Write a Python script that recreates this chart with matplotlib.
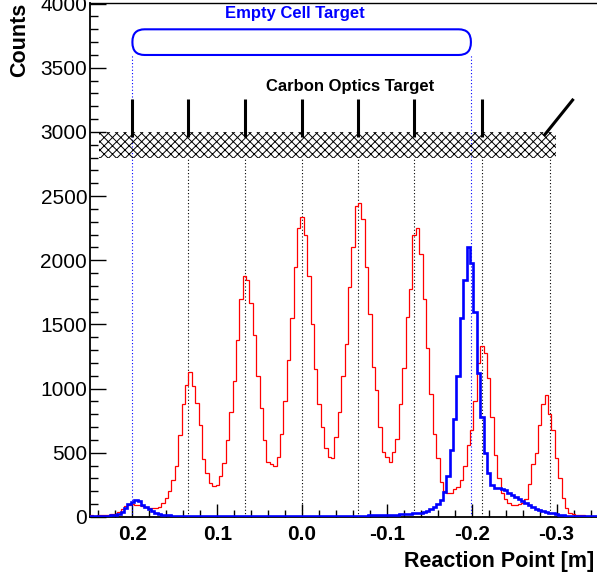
import numpy as np
import matplotlib
matplotlib.use("Agg")
import matplotlib.pyplot as plt
from matplotlib.patches import FancyBboxPatch, Rectangle
from matplotlib.ticker import MultipleLocator

plt.rcParams['font.family'] = ['Liberation Sans', 'DejaVu Sans']
plt.rcParams['hatch.linewidth'] = 0.7

# histogram range (axis drawn reversed: +0.25 on the left, -0.35 on the right)
x_lo, x_hi = -0.35, 0.25
nbins = 150

# counts per bin, read left to right on the picture (x from +0.25 down to -0.35)
carbon_counts = [
    12, 10, 14, 12, 15, 18, 20, 22, 40, 62,
    82, 95, 98, 96, 92, 86, 78, 72, 68, 70,
    80, 110, 145, 205, 290, 395, 640, 880, 1030, 1130,
    1020, 886, 720, 450, 345, 262, 242, 250, 320, 420,
    600, 820, 1060, 1380, 1700, 1880, 1850, 1670, 1420, 1100,
    850, 600, 430, 410, 395, 470, 650, 900, 1220, 1550,
    1950, 2250, 2340, 2200, 1880, 1500, 1150, 880, 700, 540,
    470, 460, 620, 820, 1100, 1350, 1790, 2100, 2420, 2450,
    2320, 1950, 1580, 1170, 990, 700, 510, 470, 430, 510,
    610, 880, 1160, 1560, 1780, 2200, 2250, 2050, 1700, 1320,
    960, 650, 460, 270, 200, 190, 190, 220, 230, 290,
    400, 560, 680, 900, 1200, 1330, 1280, 1080, 780, 480,
    300, 190, 140, 110, 96, 95, 100, 110, 140, 260,
    410, 500, 720, 880, 950, 800, 680, 460, 300, 150,
    68, 35, 22, 16, 14, 12, 10, 10, 8, 8,
]
empty_counts = [
    5, 5, 6, 6, 8, 10, 12, 14, 25, 42,
    68, 105, 120, 130, 128, 95, 75, 60, 45, 30,
    20, 15, 12, 12, 11, 11, 10, 10, 10, 10,
    9, 9, 9, 9, 9, 8, 8, 8, 8, 8,
    8, 8, 8, 8, 8, 8, 8, 8, 8, 8,
    8, 8, 8, 8, 8, 8, 8, 8, 8, 8,
    8, 8, 8, 8, 8, 8, 8, 9, 9, 9,
    9, 9, 9, 10, 10, 10, 10, 10, 11, 11,
    11, 11, 12, 12, 12, 12, 13, 14, 15, 16,
    18, 20, 22, 25, 26, 28, 30, 32, 40, 50,
    65, 80, 100, 130, 195, 320, 520, 760, 1100, 1550,
    1850, 2100, 1980, 1600, 1120, 780, 500, 340, 250, 225,
    228, 220, 210, 190, 170, 155, 140, 125, 110, 90,
    78, 65, 55, 48, 40, 34, 28, 22, 16, 12,
    10, 8, 7, 6, 6, 5, 5, 5, 4, 4,
]

carbon_foils = [0.2, 0.134, 0.067, 0.0, -0.066, -0.132, -0.212]
carbon_last = -0.292
cell_walls = [0.2, -0.199]

xtick_vals = [0.2, 0.1, 0.0, -0.1, -0.2, -0.3]
xtick_labels = ['0.2', '0.1', '0.0', '-0.1', '-0.2', '-0.3']
ytick_vals = list(range(0, 4001, 500))

fig = plt.figure(figsize=(5.97, 5.79), dpi=100)
ax = fig.add_axes([90 / 597, 62 / 579, 509 / 597, 514 / 579])
ax.set_xlim(x_hi, x_lo)
ax.set_ylim(0, 4005)

edges = np.linspace(x_lo, x_hi, nbins + 1)
ax.stairs(carbon_counts[::-1], edges, color='#ff0000', lw=0.9, zorder=3)
ax.stairs(empty_counts[::-1], edges, color='#0000ff', lw=1.9, zorder=4)

# dotted guide lines
for xv in carbon_foils[1:] + [carbon_last]:
    ax.plot([xv, xv], [0, 2800], color='black', lw=0.8, ls=(0, (1, 2)), zorder=2)
for xv in cell_walls:
    ax.plot([xv, xv], [0, 3600], color='#0000ff', lw=0.8, ls=(0, (1, 2)), zorder=2)

# hatched carbon band
ax.add_patch(Rectangle((-0.299, 2800), 0.538, 200, hatch='xxxx', fill=False,
                       ec='black', lw=0, zorder=2))
for xv in carbon_foils:
    ax.plot([xv, xv], [2960, 3260], color='black', lw=2.2, solid_capstyle='butt', zorder=3)
ax.plot([-0.285, -0.320], [2970, 3258], color='black', lw=2.2, solid_capstyle='butt', zorder=3)

# empty cell box
def fx(v):
    return (x_hi - v) / (x_hi - x_lo)

y0, y1 = 3600 / 4005, 3800 / 4005
ax.add_patch(FancyBboxPatch((fx(cell_walls[0]), y0), fx(cell_walls[1]) - fx(cell_walls[0]), y1 - y0,
                            boxstyle='round,pad=0,rounding_size=0.024', transform=ax.transAxes,
                            fill=False, ec='#0000ff', lw=1.5, zorder=3))

ax.text(0.009, 3920, 'Empty Cell Target', color='#0000ff', fontsize=12, fontweight='bold',
        ha='center', va='center')
ax.text(-0.057, 3352, 'Carbon Optics Target', color='black', fontsize=12, fontweight='bold',
        ha='center', va='center')

ax.set_xticks(xtick_vals)
ax.set_xticklabels(xtick_labels, fontweight='bold', fontsize=15)
ax.set_yticks(ytick_vals)
ax.set_yticklabels([str(v) for v in ytick_vals], fontsize=15)
ax.xaxis.set_minor_locator(MultipleLocator(0.02))
ax.yaxis.set_minor_locator(MultipleLocator(100))
ax.tick_params(axis='x', which='major', direction='in', length=9.5, width=1, pad=6)
ax.tick_params(axis='x', which='minor', direction='in', length=5, width=1)
ax.tick_params(axis='y', which='major', direction='in', length=11.5, width=1, pad=2)
ax.tick_params(axis='y', which='minor', direction='in', length=5.8, width=1)
for s in ['left', 'bottom']:
    ax.spines[s].set_linewidth(1.3)
ax.spines['top'].set_linewidth(1.0)

fig.text(20 / 597, 1 - 3 / 579, 'Counts', rotation=90, fontsize=15.5, fontweight='bold',
         ha='center', va='top')
fig.text(594 / 597, 1 - 561 / 579, 'Reaction Point [m]', fontsize=15.5, fontweight='bold',
         ha='right', va='center')

fig.savefig('out.png', dpi=100)
